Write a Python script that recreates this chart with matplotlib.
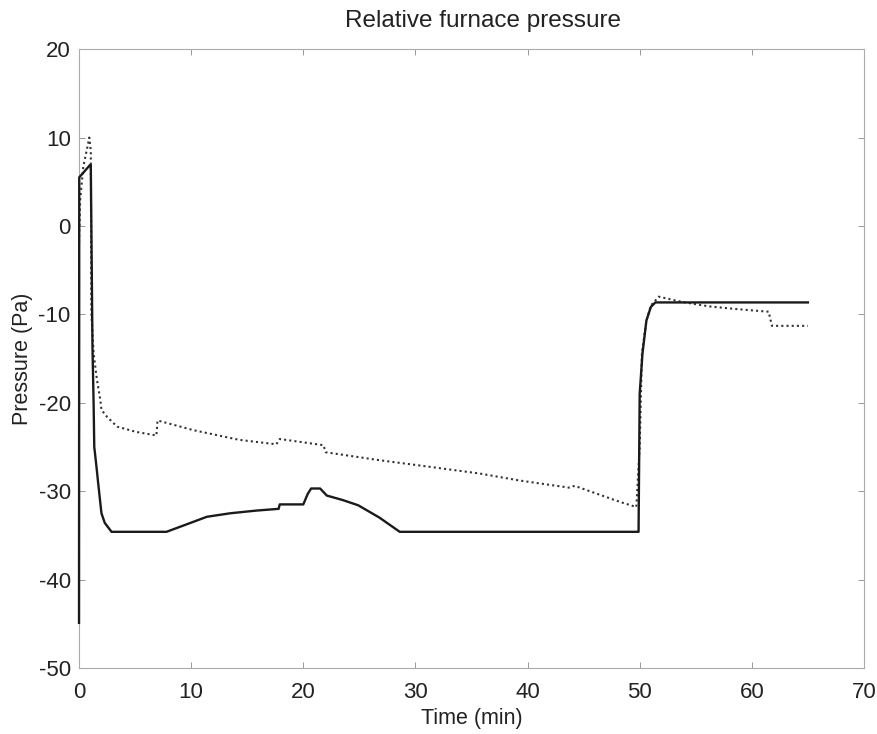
import matplotlib.pyplot as plt

plt.rcParams['font.family'] = ['Liberation Sans', 'DejaVu Sans']
plt.rcParams['axes.unicode_minus'] = False

# 实线 (solid)
solid_t = [0, 0.02, 0.98, 1.05, 1.1, 1.2, 1.3, 1.36, 1.57, 1.7, 2.0, 2.3, 2.9,
           7.8, 9.5, 11.4, 13.5, 15.8, 17.8, 17.9, 20.0, 20.4, 20.7, 21.5,
           21.8, 22.1, 23.5, 24.9, 26.8, 28.6, 49.9, 50.0, 50.25, 50.6, 51.0,
           51.4, 65.0]
solid_v = [-44.9, 5.5, 6.9, 6.9, 0.0, -13.7, -20.0, -25.0, -27.4, -29.0,
           -32.5, -33.6, -34.6, -34.6, -33.8, -32.9, -32.5, -32.2, -32.0,
           -31.5, -31.5, -30.3, -29.7, -29.7, -30.1, -30.5, -31.0, -31.6,
           -33.0, -34.6, -34.6, -19.0, -14.4, -10.7, -9.15, -8.65, -8.65]

# 点线 (dotted)
dot_t = [0, 0.1, 0.38, 0.92, 1.05, 1.1, 1.3, 1.6, 1.9, 2.0, 2.5, 3.4, 5.1,
         6.9, 7.0, 10.2, 14.3, 17.6, 17.9, 21.8, 22.0, 26.8, 30.4, 35.7,
         39.3, 43.7, 44.2, 48.2, 49.7, 50.0, 50.2, 50.6, 51.0, 51.7, 53.8,
         56.2, 58.6, 61.5, 61.8, 65.0]
dot_v = [-1.8, 2.9, 6.7, 10.0, 8.5, -9.9, -14.4, -17.4, -19.7, -20.8, -21.6,
         -22.7, -23.3, -23.7, -22.0, -23.1, -24.2, -24.7, -24.1, -24.8, -25.6,
         -26.5, -27.1, -28.0, -28.8, -29.6, -29.4, -31.2, -31.8, -25.0, -14.4,
         -10.7, -9.0, -8.0, -8.6, -9.1, -9.4, -9.7, -11.3, -11.3]

x_ticks = [0, 10, 20, 30, 40, 50, 60, 70]
y_ticks = [-50, -40, -30, -20, -10, 0, 10, 20]

fig = plt.figure(figsize=(8.78, 7.34), dpi=100)
ax = fig.add_axes([0.090, 0.090, 0.894, 0.843])

ax.plot(dot_t, dot_v, color='#333333', linewidth=1.5, linestyle=(0, (1, 1.5)),
        zorder=3, clip_on=False)
ax.plot(solid_t, solid_v, color='#1a1a1a', linewidth=1.7, zorder=3.1,
        clip_on=False)

ax.set_xlim(0, 70)
ax.set_ylim(-50, 20)
ax.set_xticks(x_ticks)
ax.set_yticks(y_ticks)
ax.tick_params(direction='in', length=4.5, width=0.7, color='#999999',
               labelsize=16, labelcolor='#222222', top=True, right=True)
ax.tick_params(axis='x', pad=10)
ax.tick_params(axis='y', pad=6)
for s in ax.spines.values():
    s.set_color('#aaaaaa')
    s.set_linewidth(0.8)
    s.set_zorder(2)

ax.set_title('Relative furnace pressure', fontsize=17.5, color='#222222',
             pad=16, x=0.515)
ax.set_xlabel('Time (min)', fontsize=15.5, color='#222222', labelpad=4)
ax.set_ylabel('Pressure (Pa)', fontsize=15.5, color='#222222', labelpad=4)

plt.savefig('out.png', dpi=100)
